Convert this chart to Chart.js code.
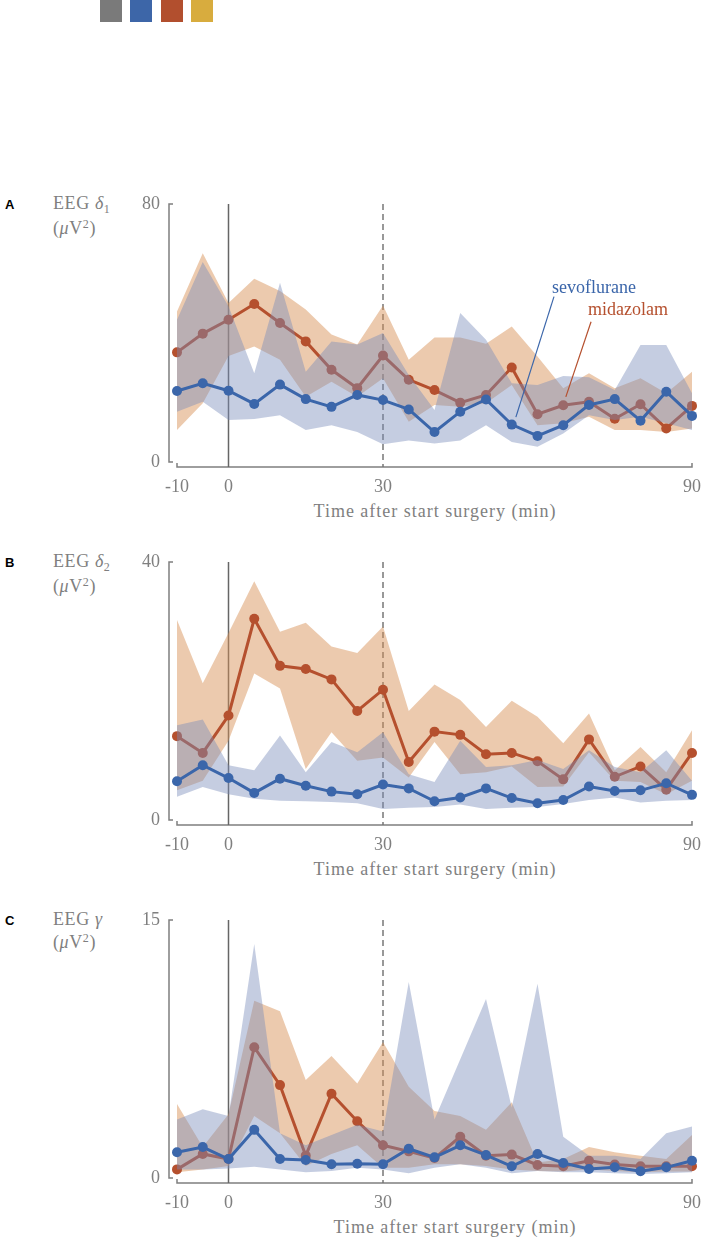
<!DOCTYPE html>
<html>
<head>
<meta charset="utf-8">
<script src="https://cdn.jsdelivr.net/npm/chart.js@4/dist/chart.umd.min.js"></script>
<style>
  body { margin: 0; width: 703px; height: 1240px; overflow: hidden; background: #fff; position: relative; }
  canvas { position: absolute; left: 0; }
  .swatch { position: absolute; top: 0; width: 22px; height: 22px; }
  .letter { position: absolute; left: 5px; font: bold 13px "Liberation Sans", Arial, sans-serif; color: #000; }
  .ylab { position: absolute; left: 53px; font: 18px "Liberation Serif", serif; letter-spacing: 0.6px; color: #7f7f7f; line-height: 23px; }
  .ylab .sub { font-size: 12px; position: relative; top: 4px; }
  .ylab .sup { font-size: 12px; position: relative; top: -6px; }
  .xlab { position: absolute; width: 320px; text-align: center; font: 18px "Liberation Serif", serif; letter-spacing: 1px; color: #7f7f7f; }
</style>
</head>
<body>

<div class="swatch" style="left:100px;background:#7a7a7a"></div>
<div class="swatch" style="left:130px;background:#3d66a8"></div>
<div class="swatch" style="left:161px;background:#b24f2e"></div>
<div class="swatch" style="left:191px;background:#d8ac3e"></div>

<div class="letter" style="top:197px">A</div>
<div class="ylab" style="top:192px">EEG <i>δ</i><span class="sub">1</span><br>(<i>μ</i>V<span class="sup">2</span>)</div>
<canvas id="chartA" width="703" height="320" style="top:180px"></canvas>
<div class="xlab" style="left:275px;top:501px">Time after start surgery (min)</div>

<div class="letter" style="top:555px">B</div>
<div class="ylab" style="top:550px">EEG <i>δ</i><span class="sub">2</span><br>(<i>μ</i>V<span class="sup">2</span>)</div>
<canvas id="chartB" width="703" height="320" style="top:538px"></canvas>
<div class="xlab" style="left:275px;top:859px">Time after start surgery (min)</div>

<div class="letter" style="top:913px">C</div>
<div class="ylab" style="top:908px">EEG <i>γ</i><br>(<i>μ</i>V<span class="sup">2</span>)</div>
<canvas id="chartC" width="703" height="320" style="top:896px"></canvas>
<div class="xlab" style="left:295px;top:1217px">Time after start surgery (min)</div>

<script>
// DATA

const times = [-10, -5, 0, 5, 10, 15, 20, 25, 30, 35, 40, 45, 50, 55, 60, 65, 70, 75, 80, 85, 90];
const xTicks = [-10, 0, 30, 90];

// panel A : EEG delta 1
const sevoA      = [22.0, 24.4, 22.1, 18.0, 24.0, 19.5, 17.1, 20.8, 19.2, 16.3, 9.3, 15.6, 19.4, 11.6, 8.1, 11.4, 17.7, 19.5, 12.8, 21.8, 14.3];
const sevoAHigh  = [44.1, 62.0, 48.3, 27.5, 55.6, 28.0, 37.4, 36.4, 40.0, 27.0, 16.1, 46.2, 37.9, 24.4, 23.9, 26.7, 26.3, 22.3, 36.3, 36.3, 21.3];
const sevoALow   = [15.6, 18.7, 13.0, 13.3, 14.5, 9.9, 11.4, 9.3, 5.5, 6.7, 5.7, 6.7, 11.4, 6.2, 4.7, 8.8, 14.5, 13.0, 14.0, 12.0, 9.9];
const midaA      = [34.0, 39.8, 44.1, 49.0, 43.1, 37.4, 28.6, 22.9, 33.0, 25.5, 22.3, 18.4, 20.8, 29.3, 14.8, 17.6, 18.7, 13.4, 17.9, 10.4, 17.4];
const midaAHigh  = [46.7, 64.7, 49.3, 56.8, 53.0, 47.3, 39.5, 36.4, 48.5, 31.7, 38.6, 38.6, 36.7, 42.0, 32.7, 22.9, 27.5, 22.9, 26.0, 21.3, 28.0];
const midaALow   = [9.9, 18.2, 32.9, 35.8, 31.7, 20.2, 24.9, 20.2, 26.0, 12.5, 17.7, 17.1, 18.2, 23.9, 11.4, 12.0, 14.0, 9.9, 9.9, 9.3, 10.4];
const yTicksA    = [0, 80];

// panel B : EEG delta 2
const sevoB      = [6.0, 8.5, 6.5, 4.2, 6.4, 5.3, 4.4, 4.0, 5.5, 4.9, 2.9, 3.5, 4.9, 3.4, 2.6, 3.1, 5.2, 4.5, 4.6, 5.7, 3.9];
const sevoBHigh  = [14.7, 15.6, 8.5, 7.7, 13.1, 7.4, 12.1, 10.5, 13.6, 7.1, 5.9, 12.3, 8.2, 8.5, 9.3, 7.9, 10.8, 8.2, 7.4, 10.8, 6.1];
const sevoBLow   = [3.6, 5.1, 4.0, 3.3, 3.0, 2.9, 2.8, 2.6, 1.7, 1.9, 2.0, 2.4, 1.7, 1.9, 2.0, 2.5, 3.1, 3.5, 2.7, 3.0, 3.1];
const midaB      = [13.0, 10.4, 16.2, 31.2, 23.9, 23.4, 21.8, 16.9, 20.2, 9.0, 13.7, 13.2, 10.2, 10.4, 9.1, 6.3, 12.5, 6.7, 8.3, 4.7, 10.4];
const midaBHigh  = [31.0, 21.2, 29.0, 37.0, 29.2, 30.6, 26.9, 25.9, 30.0, 16.9, 21.0, 18.6, 14.4, 18.5, 16.0, 11.9, 16.5, 7.7, 11.3, 7.4, 13.9];
const midaBLow   = [4.6, 6.1, 12.3, 22.7, 20.4, 7.9, 13.6, 9.2, 9.7, 6.6, 12.1, 7.1, 7.4, 8.3, 5.1, 5.2, 10.5, 6.1, 5.9, 4.0, 6.1];
const yTicksB    = [0, 40];

// panel C : EEG gamma
const sevoC      = [1.5, 1.8, 1.1, 2.8, 1.1, 1.05, 0.8, 0.83, 0.8, 1.7, 1.2, 1.9, 1.33, 0.68, 1.4, 0.87, 0.52, 0.62, 0.39, 0.62, 1.0];
const sevoCHigh  = [3.4, 4.0, 3.6, 13.6, 2.6, 1.9, 2.5, 3.1, 2.7, 11.4, 3.4, 6.9, 10.4, 4.1, 11.3, 2.4, 1.3, 1.3, 1.1, 2.6, 3.0];
const sevoCLow   = [0.5, 0.5, 0.55, 0.65, 0.5, 0.33, 0.4, 0.6, 0.5, 0.27, 0.6, 0.8, 0.6, 0.27, 0.4, 0.33, 0.33, 0.27, 0.23, 0.27, 0.33];
const midaC      = [0.5, 1.4, 1.1, 7.6, 5.4, 1.3, 4.9, 3.3, 1.9, 1.55, 1.16, 2.4, 1.3, 1.36, 0.76, 0.68, 1.0, 0.78, 0.68, 0.68, 0.68];
const midaCHigh  = [4.3, 1.8, 3.7, 10.3, 9.7, 5.7, 7.1, 5.5, 7.9, 5.3, 3.9, 3.6, 2.8, 4.4, 0.9, 1.1, 1.8, 1.5, 1.3, 1.1, 2.5];
const midaCLow   = [0.33, 0.5, 0.7, 3.6, 2.6, 0.7, 1.4, 1.9, 0.6, 0.6, 0.8, 0.8, 0.7, 0.5, 0.4, 0.38, 0.5, 0.4, 0.33, 0.38, 0.38];
const yTicksC    = [0, 15];

// STYLE

const BLUE = "#3b66aa";
const RED = "#b5502e";
const BLUE_BAND = "rgba(120,138,186,0.43)";
const ORANGE_BAND = "rgba(214,142,82,0.47)";
const GRAY = "#7f7f7f";
const SERIF = "'Liberation Serif', serif";

function pts(vals) {
  return times.map((t, i) => ({ x: t, y: vals[i] }));
}

// offset axes, event lines and panel A labels
const decor = {
  id: "decor",
  beforeDatasetsDraw(chart) {
    const { ctx, chartArea: a, scales: { x } } = chart;
    const yl = a.left - 8;
    const xl = a.bottom + 5;
    ctx.save();
    ctx.strokeStyle = GRAY;
    ctx.lineWidth = 1.5;
    ctx.beginPath();
    ctx.moveTo(yl + 4, a.top); ctx.lineTo(yl, a.top); ctx.lineTo(yl, a.bottom); ctx.lineTo(yl + 4, a.bottom);
    ctx.moveTo(a.left, xl - 4); ctx.lineTo(a.left, xl); ctx.lineTo(a.right, xl); ctx.lineTo(a.right, xl - 4);
    ctx.stroke();

    ctx.strokeStyle = "#666";
    ctx.beginPath();
    ctx.moveTo(x.getPixelForValue(0), a.top);
    ctx.lineTo(x.getPixelForValue(0), xl);
    ctx.stroke();

    ctx.strokeStyle = "#777";
    ctx.setLineDash([6, 4]);
    ctx.beginPath();
    ctx.moveTo(x.getPixelForValue(30), a.top);
    ctx.lineTo(x.getPixelForValue(30), xl);
    ctx.stroke();
    ctx.restore();
  },
  afterDatasetsDraw(chart, args, opts) {
    if (!opts.labels) return;
    const { ctx, scales: { x, y } } = chart;
    ctx.save();
    ctx.font = "18px " + SERIF;
    ctx.textBaseline = "middle";
    ctx.lineWidth = 1.2;
    opts.labels.forEach(l => {
      ctx.fillStyle = l.color;
      ctx.strokeStyle = l.color;
      ctx.fillText(l.text, x.getPixelForValue(l.at[0]), y.getPixelForValue(l.at[1]));
      ctx.beginPath();
      ctx.moveTo(x.getPixelForValue(l.from[0]), y.getPixelForValue(l.from[1]));
      ctx.lineTo(x.getPixelForValue(l.to[0]), y.getPixelForValue(l.to[1]));
      ctx.stroke();
    });
    ctx.restore();
  }
};

function makePanel(id, yTicks, sevo, sevoHigh, sevoLow, mida, midaHigh, midaLow, labels) {
  const meanLine = (vals, color) => ({
    data: pts(vals), borderColor: color, backgroundColor: color, borderWidth: 3,
    pointRadius: 5, pointBorderWidth: 0, pointBackgroundColor: color, fill: false, clip: false
  });
  const bandEdge = (vals, fill, color) => ({
    data: pts(vals), borderColor: "transparent", borderWidth: 0, pointRadius: 0,
    backgroundColor: color, fill: fill
  });

  new Chart(document.getElementById(id), {
    type: "line",
    data: {
      // first dataset is drawn on top
      datasets: [
        meanLine(sevo, BLUE),
        bandEdge(sevoHigh, "+1", BLUE_BAND),
        bandEdge(sevoLow, false, BLUE_BAND),
        meanLine(mida, RED),
        bandEdge(midaHigh, "+1", ORANGE_BAND),
        bandEdge(midaLow, false, ORANGE_BAND)
      ]
    },
    options: {
      responsive: false,
      animation: false,
      elements: { line: { tension: 0 } },
      layout: { padding: { top: 24, right: 11, bottom: 0, left: 0 } },
      plugins: {
        legend: { display: false },
        tooltip: { enabled: false },
        decor: { labels: labels }
      },
      scales: {
        x: {
          type: "linear", min: -10, max: 90,
          grid: { display: false, drawTicks: false }, border: { display: false },
          afterBuildTicks: s => { s.ticks = xTicks.map(v => ({ value: v })); },
          afterFit: s => { s.height = 38; s.paddingLeft = 0; s.paddingRight = 0; },
          ticks: { color: GRAY, font: { family: SERIF, size: 18 }, padding: 14, maxRotation: 0, autoSkip: false }
        },
        y: {
          min: yTicks[0], max: yTicks[yTicks.length - 1],
          grid: { display: false, drawTicks: false }, border: { display: false },
          afterBuildTicks: s => { s.ticks = yTicks.map(v => ({ value: v })); },
          afterFit: s => { s.width = 177; s.paddingTop = 0; s.paddingBottom = 0; },
          ticks: { color: GRAY, font: { family: SERIF, size: 18 }, padding: 17 }
        }
      }
    },
    plugins: [decor]
  });
}

// INIT

makePanel("chartA", yTicksA, sevoA, sevoAHigh, sevoALow, midaA, midaAHigh, midaALow, [
  { text: "sevoflurane", color: BLUE, at: [62.8, 53.8], from: [63.2, 51.3], to: [55.8, 13.9] },
  { text: "midazolam", color: RED, at: [69.8, 46.9], from: [70.4, 43.5], to: [65.5, 20.2] }
]);
makePanel("chartB", yTicksB, sevoB, sevoBHigh, sevoBLow, midaB, midaBHigh, midaBLow, null);
makePanel("chartC", yTicksC, sevoC, sevoCHigh, sevoCLow, midaC, midaCHigh, midaCLow, null);
</script>
</body>
</html>
